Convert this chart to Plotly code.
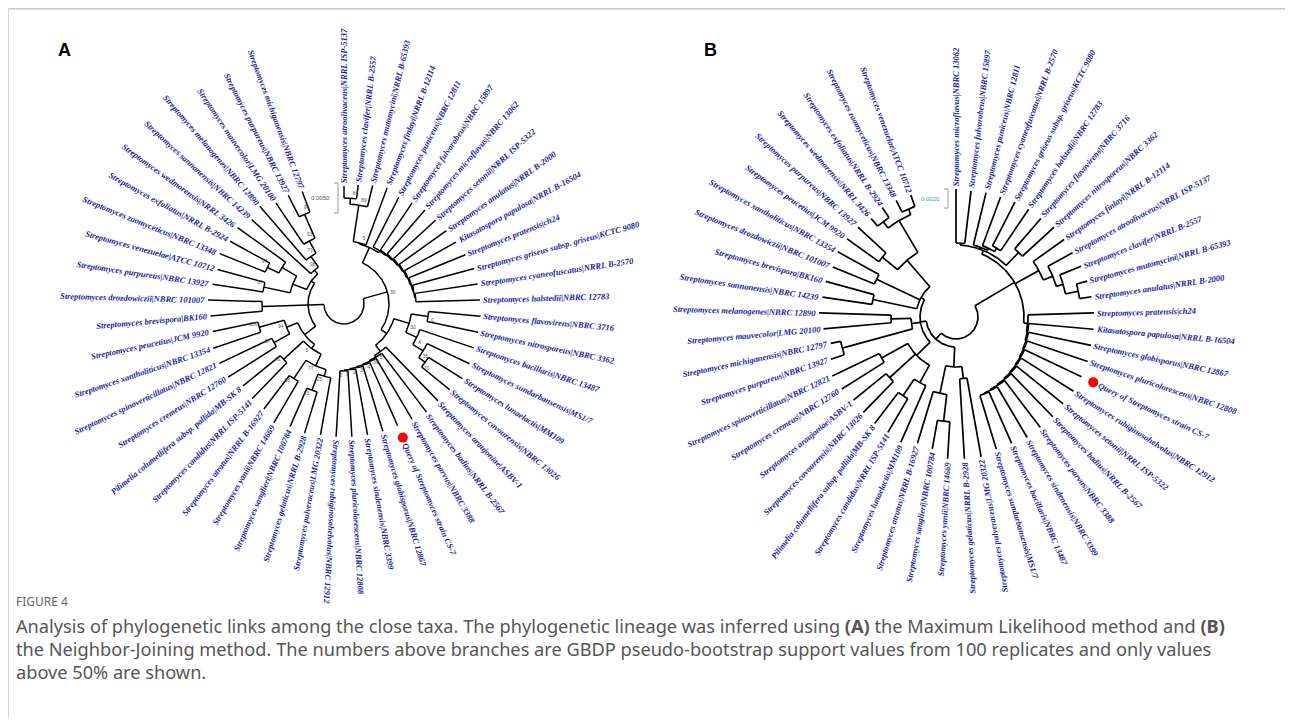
import math
import plotly.graph_objects as go

W, H = 1293, 726
PAGE_MARGIN = 8  # default body margin of the written html page

# ---------------- data ----------------
LEAVES_A = [
    "Streptomyces atroolivaceus|NRRL ISP-5137", "Streptomyces clavifer|NRRL B-2557",
    "Streptomyces mutomycini|NRRL B-65393", "Streptomyces finlayi|NRRL B-12114",
    "Streptomyces puniceus|NBRC 12811", "Streptomyces fulvorobeus|NBRC 15897",
    "Streptomyces microflavus|NBRC 13062", "Streptomyces setonii|NRRL ISP-5322",
    "Streptomyces anulatus|NRRL B-2000", "Kitasatospora papulosa|NRRL B-16504",
    "Streptomyces pratensis|ch24", "Streptomyces griseus subsp. griseus|KCTC 9080",
    "Streptomyces cyaneofuscatus|NRRL B-2570", "Streptomyces halstedii|NBRC 12783",
    "Streptomyces flavovirens|NBRC 3716", "Streptomyces nitrosporeus|NBRC 3362",
    "Streptomyces bacillaris|NBRC 13487", "Streptomyces sundarbansensis|MS1/7",
    "Streptomyces lunaelactis|MM109", "Streptomyces cavourensis|NBRC 13026",
    "Streptomyces araujoniae|ASBV-1", "Streptomyces badius|NRRL B-2567",
    "Streptomyces parvus|NBRC 3388", "Query of Streptomyces strain CS-7",
    "Streptomyces globisporus|NBRC 12867", "Streptomyces sindenensis|NBRC 3399",
    "Streptomyces pluricolorescens|NBRC 12808", "Streptomyces rubiginosohelvolus|NBRC 12912",
    "Streptomyces pulveraceus|LMG 20322", "Streptomyces gelaticus|NRRL B-2928",
    "Streptomyces sanglieri|NBRC 100784", "Streptomyces yanii|NBRC 14669",
    "Streptomyces atratus|NRRL B-16927", "Streptomyces candidus|NRRL ISP-5141",
    "Pilimelia columellifera subsp. pallida|MB-SK 8", "Streptomyces cremeus|NBRC 12760",
    "Streptomyces spinoverticillatus|NBRC 12821", "Streptomyces xantholiticus|NBRC 13354",
    "Streptomyces peucetius|JCM 9920", "Streptomyces brevispora|BK160",
    "Streptomyces drozdowiczii|NBRC 101007", "Streptomyces purpureus|NBRC 13927",
    "Streptomyces venezuelae|ATCC 10712", "Streptomyces zaomyceticus|NBRC 13348",
    "Streptomyces exfoliatus|NRRL B-2924", "Streptomyces wedmorensis|NRRL 3426",
    "Streptomyces sannanensis|NBRC 14239", "Streptomyces melanogenes|NBRC 12890",
    "Streptomyces mauvecolor|LMG 20100", "Streptomyces purpureus|NBRC 13927",
    "Streptomyces michiganensis|NBRC 12797",
]

LEAVES_B = [
    "Streptomyces microflavus|NBRC 13062", "Streptomyces fulvorobeus|NBRC 15897",
    "Streptomyces puniceus|NBRC 12811", "Streptomyces cyaneofuscatus|NRRL B-2570",
    "Streptomyces griseus subsp. griseus|KCTC 9080", "Streptomyces halstedii|NBRC 12783",
    "Streptomyces flavovirens|NBRC 3716", "Streptomyces nitrosporeus|NBRC 3362",
    "Streptomyces finlayi|NRRL B-12114", "Streptomyces atroolivaceus|NRRL ISP-5137",
    "Streptomyces clavifer|NRRL B-2557", "Streptomyces mutomycini|NRRL B-65393",
    "Streptomyces anulatus|NRRL B-2000", "Streptomyces pratensis|ch24",
    "Kitasatospora papulosa|NRRL B-16504", "Streptomyces globisporus|NBRC 12867",
    "Streptomyces pluricolorescens|NBRC 12808", "Query of Streptomyces strain CS-7",
    "Streptomyces rubiginosohelvolus|NBRC 12912", "Streptomyces setonii|NRRL ISP-5322",
    "Streptomyces badius|NRRL B-2567", "Streptomyces parvus|NBRC 3388",
    "Streptomyces sindenensis|NBRC 3399", "Streptomyces bacillaris|NBRC 13487",
    "Streptomyces sundarbansensis|MS1/7", "Streptomyces pulveraceus|LMG 20322",
    "Streptomyces gelaticus|NRRL B-2928", "Streptomyces yanii|NBRC 14669",
    "Streptomyces sanglieri|NBRC 100784", "Streptomyces atratus|NRRL B-16927",
    "Streptomyces lunaelactis|MM109", "Streptomyces candidus|NRRL ISP-5141",
    "Pilimelia columellifera subsp. pallida|MB-SK 8", "Streptomyces cavourensis|NBRC 13026",
    "Streptomyces araujoniae|ASBV-1", "Streptomyces cremeus|NBRC 12760",
    "Streptomyces spinoverticillatus|NBRC 12821", "Streptomyces purpureus|NBRC 13927",
    "Streptomyces michiganensis|NBRC 12797", "Streptomyces mauvecolor|LMG 20100",
    "Streptomyces melanogenes|NBRC 12890", "Streptomyces sannanensis|NBRC 14239",
    "Streptomyces brevispora|BK160", "Streptomyces drozdowiczii|NBRC 101007",
    "Streptomyces xantholiticus|NBRC 13354", "Streptomyces peucetius|JCM 9920",
    "Streptomyces purpureus|NBRC 13927", "Streptomyces wedmorensis|NRRL 3426",
    "Streptomyces exfoliatus|NRRL B-2924", "Streptomyces zaomyceticus|NBRC 13348",
    "Streptomyces venezuelae|ATCC 10712",
]

QUERY_NAME = "Query of Streptomyces strain CS-7"

# Newick-like topology: leaf index : node depth (tree units), internal node label = support value
NEWICK_A = (
    "((("
    "(((28:133,(29:135,30:134)23:92)25:75,(31:138,32:132)55:90)77:68,(33:132,34:130)46:82)5:55,"
    "((35:137,36:138)57:80,(37:138,38:134)100:88)94:62):50,"
    "(39:134,40:136):82,"
    "(((41:133,42:131)97:82,((43:134,44:130)97:85,45:131):72):55,"
    "(46:125,(47:129,(48:122,(49:122,50:120)96:98)63:72)71:58)98:45):40"
    "):36,"
    "(("
    "(((0:118,1:120)86:106,2:122)89:100,3:124)5:63,"
    "(4:120,(5:122,(6:124,(7:124,(8:126,(9:128,(10:131,(11:135,(12:135,13:136):72):71):70):69):68):67):66):65):64"
    "):62,"
    "(((14:137,15:137)0:85,(16:137,(17:139,(18:140,19:136)70:100)35:92)4:80)30:68,"
    "(20:135,(21:136,(22:134,(23:133,(24:133,(25:133,(26:133,27:133)6:67)1:66)2:65)3:64)4:63)36:62)5:60"
    "):52"
    ")30:45"
    "):20"
)

NEWICK_B = (
    "(("
    "((0:128,1:127):74,(2:128,(3:128,(4:129,5:130):80):76):74,(6:130,7:133):90):72,"
    "(8:133,(9:133,(10:135,(11:136,12:137):125):112):105):95,"
    "(13:138,(14:138,(15:138,(16:139,(17:139,(18:139,(19:138,(20:139,(21:139,(22:140,(23:138,24:138):82):81):80):79):78):77):76):75):74):73):72"
    "):68,"
    "("
    "((25:142,26:142):62,((27:142,28:134):105,29:132):78):50,"
    "("
    "((30:137,(31:134,32:134):95):75,(33:133,34:132):90,(35:135,36:137):85):55,"
    "((37:132,38:128):118,(39:133,40:137):65):45,"
    "((41:135,42:135):85,(43:133,44:135):88,((45:134,46:133):95,((47:130,48:132):120,(49:131,50:130):118):112):75):40"
    "):36"
    "):30"
    "):22"
)

SCALE_A = ("0.0050", 30)   # (label, length in tree units)
SCALE_B = ("0.0020", 19)

CAPTION_TITLE = "FIGURE 4"
CAPTION_LINES = [
    "Analysis of phylogenetic links among the close taxa. The phylogenetic lineage was inferred using <b>(A)</b> the Maximum Likelihood method and <b>(B)</b>",
    "the Neighbor-Joining method. The numbers above branches are GBDP pseudo-bootstrap support values from 100 replicates and only values",
    "above 50% are shown.",
]

# ---------------- helpers ----------------
def parse_newick(s):
    s = "".join(s.split())
    pos = 0

    def read_until(stops):
        nonlocal pos
        st = pos
        while pos < len(s) and s[pos] not in stops:
            pos += 1
        return s[st:pos]

    def node():
        nonlocal pos
        if s[pos] == "(":
            pos += 1
            kids = [node()]
            while s[pos] == ",":
                pos += 1
                kids.append(node())
            pos += 1  # ')'
            label = read_until(":")
            pos += 1
            depth = float(read_until(",)"))
            return {"kids": kids, "label": label, "r": depth}
        idx = int(read_until(":"))
        pos += 1
        depth = float(read_until(",)"))
        return {"leaf": idx, "r": depth}

    return node()


N_SLOTS = 53
STEP = 360.0 / N_SLOTS


def assign_angles(nd):
    if "leaf" in nd:
        nd["a"] = 90.0 - nd["leaf"] * STEP
    else:
        for k in nd["kids"]:
            assign_angles(k)
        nd["a"] = sum(k["a"] for k in nd["kids"]) / len(nd["kids"])


def pol(cx, cy, r, a):
    t = math.radians(a)
    return cx + r * math.cos(t), cy - r * math.sin(t)


def draw_tree(nd, cx, cy, xs, ys, parent_r, boots, leaves):
    if parent_r is not None:
        x0, y0 = pol(cx, cy, parent_r, nd["a"])
        x1, y1 = pol(cx, cy, nd["r"], nd["a"])
        xs += [x0, x1, None]
        ys += [y0, y1, None]
    if "leaf" in nd:
        leaves.append(nd)
        return
    angs = [k["a"] for k in nd["kids"]]
    a0, a1 = min(angs), max(angs)
    n = max(2, int((a1 - a0) / 1.0) + 2)
    for i in range(n):
        a = a0 + (a1 - a0) * i / (n - 1)
        x, y = pol(cx, cy, nd["r"], a)
        xs.append(x)
        ys.append(y)
    xs.append(None)
    ys.append(None)
    if nd.get("label"):
        boots.append((nd["label"], nd["r"], nd["a"]))
    for k in nd["kids"]:
        draw_tree(k, cx, cy, xs, ys, nd["r"], boots, leaves)


def leaf_label(text, r, ang, right_rule, cx, cy, fs, color):
    t = math.radians(ang)
    ux, uy = math.cos(t), math.sin(t)
    px_, py_ = r * ux, r * uy
    dx, dy = (ux, uy) if right_rule else (-ux, -uy)
    psi = math.atan2(dy, dx)
    h = fs * 1.25
    hs = h / 2 * abs(math.sin(psi))
    hc = h / 2 * abs(math.cos(psi))
    c, s = math.cos(psi), math.sin(psi)
    if right_rule:
        xa, ax = ("left", px_ - hs) if c >= 0 else ("right", px_ + hs)
        ya, ay = ("bottom", py_ - hc) if s >= 0 else ("top", py_ + hc)
    else:
        xa, ax = ("right", px_ + hs) if c >= 0 else ("left", px_ - hs)
        ya, ay = ("top", py_ + hc) if s >= 0 else ("bottom", py_ - hc)
    return dict(
        x=cx + ax, y=cy - ay, xref="x", yref="y", xanchor=xa, yanchor=ya,
        text="<b><i>%s</i></b>" % text, showarrow=False, textangle=-math.degrees(psi),
        font=dict(family="Liberation Serif", size=fs, color=color),
        borderpad=0, borderwidth=0,
    )


fig = go.Figure()
annotations = []
shapes = []

TREES = [
    dict(newick=NEWICK_A, names=LEAVES_A, cx=344, cy=304, flip_lo=-97, flip_hi=100,
         lw=1.5, boots=True, scale=SCALE_A, sx=338, sy=183, scol="#555555"),
    dict(newick=NEWICK_B, names=LEAVES_B, cx=956, cy=317, flip_lo=-77, flip_hi=100,
         lw=1.7, boots=False, scale=SCALE_B, sx=948, sy=189, scol="#3a9e9a"),
]

LABEL_COLOR = "#22229a"
FS = 8.5

for tr in TREES:
    root = parse_newick(tr["newick"])
    assign_angles(root)
    xs, ys, boots, leaves = [], [], [], []
    draw_tree(root, tr["cx"], tr["cy"], xs, ys, None, boots, leaves)
    fig.add_trace(go.Scatter(x=xs, y=ys, mode="lines",
                             line=dict(color="black", width=tr["lw"]),
                             hoverinfo="skip", showlegend=False))
    if tr["boots"]:
        bx, by, bt = [], [], []
        for lab, r, a in boots:
            x, y = pol(tr["cx"], tr["cy"], r + 5, a - 2.5)
            bx.append(x)
            by.append(y)
            bt.append(lab)
        fig.add_trace(go.Scatter(x=bx, y=by, mode="text", text=bt,
                                 textfont=dict(size=5, color="#555555", family="Liberation Sans"),
                                 hoverinfo="skip", showlegend=False))
    for lf in leaves:
        name = tr["names"][lf["leaf"]]
        a = lf["a"]
        an = ((a + 180) % 360) - 180
        right = tr["flip_lo"] < an < tr["flip_hi"]
        if name == QUERY_NAME:
            dx, dy = pol(tr["cx"], tr["cy"], lf["r"] + 13, a)
            fig.add_trace(go.Scatter(x=[dx], y=[dy], mode="markers",
                                     marker=dict(color="#ff0000", size=10),
                                     hoverinfo="skip", showlegend=False))
            rr = lf["r"] + 19
        else:
            rr = lf["r"] + 3
        annotations.append(leaf_label(name, rr, a, right, tr["cx"], tr["cy"], FS, LABEL_COLOR))
    # scale bar
    lab, ln = tr["scale"]
    sx, sy = tr["sx"], tr["sy"]
    fig.add_trace(go.Scatter(x=[sx - 4, sx, sx, sx - 4], y=[sy, sy, sy + ln, sy + ln],
                             mode="lines", line=dict(color="#999999", width=1),
                             hoverinfo="skip", showlegend=False))
    annotations.append(dict(x=sx - 6, y=sy + ln / 2, xref="x", yref="y", text=lab,
                            showarrow=False, xanchor="right", yanchor="middle",
                            font=dict(family="Liberation Sans", size=6, color=tr["scol"])))

# panel letters
for letter, lx in (("A", 56), ("B", 702)):
    annotations.append(dict(x=lx, y=50, xref="x", yref="y", text="<b>%s</b>" % letter,
                            showarrow=False, xanchor="left", yanchor="middle",
                            font=dict(family="Liberation Sans", size=18, color="black")))

# caption
annotations.append(dict(x=14, y=601, xref="x", yref="y", text=CAPTION_TITLE, showarrow=False,
                        xanchor="left", yanchor="middle",
                        font=dict(family="Noto Sans", size=12, color="#666666")))
for i, line in enumerate(CAPTION_LINES):
    annotations.append(dict(x=14, y=626 + 23 * i, xref="x", yref="y", text=line, showarrow=False,
                            xanchor="left", yanchor="middle",
                            font=dict(family="Noto Sans", size=18.2, color="#555555")))

M = PAGE_MARGIN
# frame lines (drawn at the edge of the visible figure area)
shapes.append(dict(type="line", xref="x", yref="y", x0=M + 0.5, x1=W - M, y0=M + 0.75, y1=M + 0.75,
                   line=dict(color="#c8c8c8", width=1.5)))
shapes.append(dict(type="line", xref="x", yref="y", x0=M + 0.5, x1=M + 0.5, y0=M + 0.75, y1=H - M,
                   line=dict(color="#d5d5d5", width=1)))

# figure is placed inside the page's body margin; map axis units to page pixels
fig.update_layout(
    width=W - 2 * M, height=H - 2 * M, margin=dict(l=0, r=0, t=0, b=0),
    paper_bgcolor="white", plot_bgcolor="white",
    xaxis=dict(range=[M, W - M], visible=False, fixedrange=True),
    yaxis=dict(range=[H - M, M], visible=False, fixedrange=True),
    annotations=annotations, shapes=shapes, showlegend=False,
)

fig.write_html("out.html")
